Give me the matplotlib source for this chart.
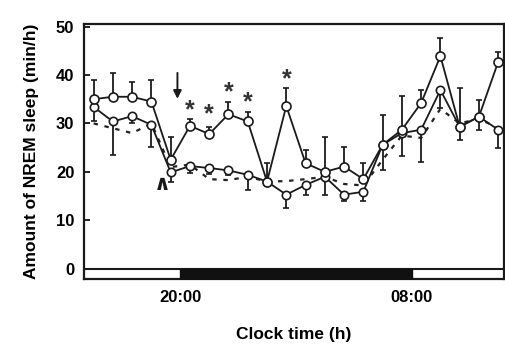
import matplotlib
matplotlib.use("Agg")
import matplotlib.pyplot as plt
import numpy as np

plt.rcParams['font.family'] = ['Liberation Sans', 'DejaVu Sans']
plt.rcParams['font.weight'] = 'bold'

# clock hours (15.5 = 15:30, 24.5 = 00:30 next day, ...)
hours = [15.5, 16.5, 17.5, 18.5, 19.5, 20.5, 21.5, 22.5, 23.5, 24.5, 25.5,
         26.5, 27.5, 28.5, 29.5, 30.5, 31.5, 32.5, 33.5, 34.5, 35.5, 36.5]

# treated (upper trace, with stars)
upper = [35.0, 35.5, 35.5, 34.5, 22.5, 29.5, 27.8, 31.9, 30.4, 18.0, 33.6,
         21.8, 20.0, 21.1, 18.5, 25.6, 28.7, 34.2, 43.9, 29.3, 31.4, 42.7]
upper_err = [4.0, 5.0, 3.0, 4.5, 4.8, 1.5, 1.5, 2.5, 2.0, 3.8, 3.7,
             2.7, 7.3, 4.0, 3.3, 6.2, 7.0, 2.8, 3.7, 8.0, 3.4, 2.1]

# control (lower trace)
lower = [33.4, 30.4, 31.5, 29.7, 19.9, 21.2, 20.8, 20.3, 19.4, 18.0, 15.3,
         17.3, 19.0, 15.3, 15.9, 25.6, 28.0, 28.7, 36.9, 29.3, 31.4, 28.7]
lower_err = [3.0, 6.9, 1.5, 4.5, 2.0, 1.5, 1.2, 1.0, 3.1, 1.0, 2.7,
             2.1, 3.8, 1.4, 2.0, 5.2, 4.8, 6.6, 3.7, 2.7, 2.7, 3.8]

# baseline (dotted, no markers)
baseline = [30.0, 29.0, 28.0, 30.0, 21.0, 21.5, 18.5, 18.3, 19.0, 18.0, 18.1,
            18.5, 19.0, 17.5, 17.2, 22.5, 27.5, 27.0, 33.0, 30.0, 31.0, 29.0]

star_hours = [20.5, 21.5, 22.5, 23.5, 25.5]
star_vals = [32.8, 31.8, 36.5, 34.3, 39.0]

lights_off = 20
lights_on = 32

fig = plt.figure(figsize=(5.06, 3.44), dpi=100)
ax = fig.add_axes([0.166, 0.189, 0.830, 0.741])

ax.plot(hours, baseline, linestyle=(0, (2, 3)), color='#222222', lw=1.6, zorder=2)

zeros = np.zeros(len(hours))
ax.errorbar(hours, lower, yerr=[lower_err, zeros], fmt='-o', color='#1a1a1a',
            mfc='white', mec='#1a1a1a', ms=6, mew=1.2, lw=1.3, elinewidth=1.3,
            capsize=2, zorder=3)
ax.errorbar(hours, upper, yerr=[zeros, upper_err], fmt='-o', color='#1a1a1a',
            mfc='white', mec='#1a1a1a', ms=6.5, mew=1.2, lw=1.3, elinewidth=1.3,
            capsize=2, zorder=4)

for h, v in zip(star_hours, star_vals):
    ax.text(h, v, '*', ha='center', va='center', fontsize=18, color='#333333')

# arrow and arrowhead marks
ax.annotate('', xy=(19.85, 34.5), xytext=(19.85, 41.0),
            arrowprops=dict(arrowstyle='-|>', color='#1a1a1a', lw=1.4,
                            mutation_scale=12))
ax.text(19.0, 17.3, r'$\mathbf{\wedge}$', ha='center', va='center',
        fontsize=15, color='#1a1a1a')

# light/dark bar
ax.axhline(0, color='#1a1a1a', lw=1.5, zorder=5)
ax.fill_between([lights_off, lights_on], -2.1, 0, color='#111111', zorder=5)

ax.set_xlim(15, 36.8)
ax.set_ylim(-2.1, 50.5)
ax.set_xticks([lights_off, lights_on])
ax.set_xticklabels(['20:00', '08:00'], fontsize=12, fontweight='bold')
ax.set_yticks([0, 10, 20, 30, 40, 50])
ax.set_yticklabels(['0', '10', '20', '30', '40', '50'], fontsize=12, fontweight='bold')
ax.tick_params(axis='x', length=0, pad=8)
ax.tick_params(axis='y', direction='in', length=4, width=1.2, pad=7)
for s in ax.spines.values():
    s.set_linewidth(1.6)
    s.set_color('#1a1a1a')

ax.set_xlabel('Clock time (h)', fontsize=12.5, fontweight='bold', labelpad=16)
ax.set_ylabel('Amount of NREM sleep (min/h)', fontsize=12.5, fontweight='bold', labelpad=12)

fig.savefig('out.png', dpi=100)
